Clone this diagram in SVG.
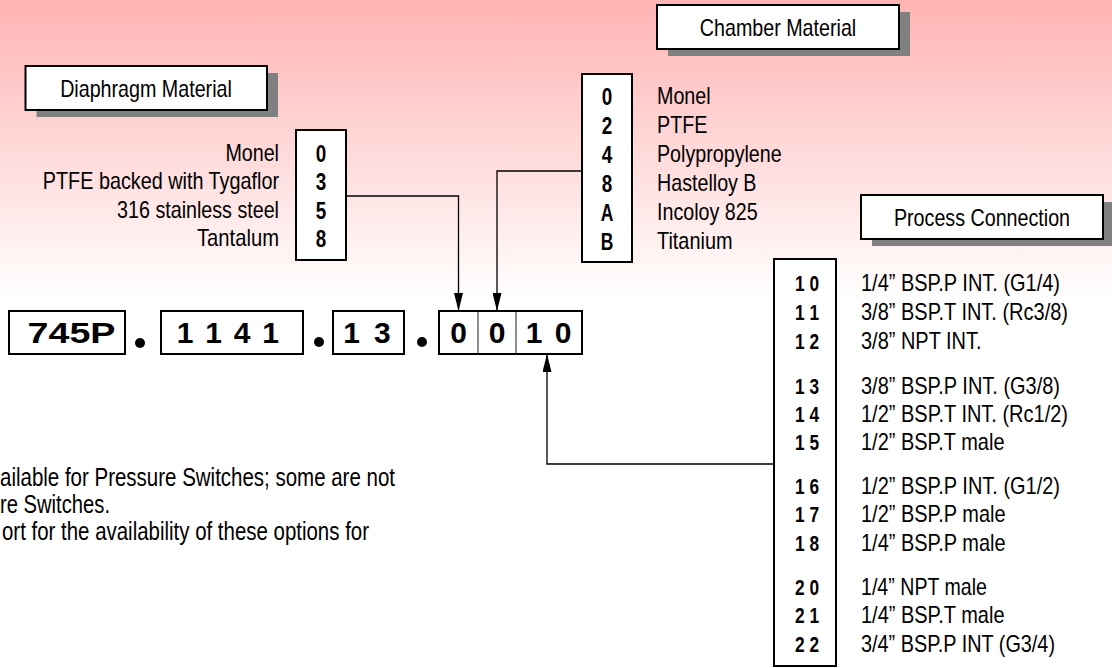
<svg xmlns="http://www.w3.org/2000/svg" width="1112" height="668" viewBox="0 0 1112 668">
<defs>
<linearGradient id="bg" x1="0" y1="0" x2="0" y2="300" gradientUnits="userSpaceOnUse">
<stop offset="0" stop-color="#ffb3b3"/>
<stop offset="1" stop-color="#ffffff"/>
</linearGradient>
<marker id="ah" viewBox="0 0 18 9" refX="18" refY="4.5" markerWidth="18" markerHeight="9" orient="auto" markerUnits="userSpaceOnUse">
<path d="M0,0 L18,4.5 L0,9 z" fill="#000"/>
</marker>
<style>
.t{font-family:"Liberation Sans Narrow","Arial Narrow","Liberation Sans",Arial,sans-serif;font-size:24px;fill:#000}
.n{font-family:"Liberation Sans Narrow","Arial Narrow","Liberation Sans",Arial,sans-serif;font-size:25px;fill:#000}
.cb{font-family:"Liberation Sans",Arial,sans-serif;font-weight:bold;font-size:23px;fill:#000;text-anchor:middle}
.pc{font-family:"Liberation Sans",Arial,sans-serif;font-weight:bold;font-size:22px;fill:#000;text-anchor:middle}
.mc{font-family:"Liberation Sans",Arial,sans-serif;font-weight:bold;font-size:30px;fill:#000;text-anchor:middle}
.box{fill:#fff;stroke:#000;stroke-width:2}
.sh{fill:#808080}
.ln{fill:none;stroke:#000;stroke-width:1.3}
.div{stroke:#444;stroke-width:1.2}
</style>
</defs>
<rect x="0" y="0" width="1112" height="300" fill="url(#bg)"/>
<rect x="0" y="300" width="1112" height="368" fill="#fff"/>

<g id="label-diaphragm">
<rect class="sh" x="36.5" y="73" width="241.5" height="44"/>
<rect class="box" x="25.5" y="66" width="241.5" height="44"/>
<text class="t" x="146" y="96.5" text-anchor="middle" textLength="171.7" lengthAdjust="spacingAndGlyphs">Diaphragm Material</text>
</g>

<g id="label-chamber">
<rect class="sh" x="668" y="12" width="242" height="44"/>
<rect class="box" x="657" y="5" width="242" height="44"/>
<text class="t" x="778" y="35.5" text-anchor="middle" textLength="156.4" lengthAdjust="spacingAndGlyphs">Chamber Material</text>
</g>

<g id="label-process">
<rect class="sh" x="872" y="202" width="242" height="44"/>
<rect class="box" x="861" y="195" width="242" height="44"/>
<text class="t" x="982" y="225.5" text-anchor="middle" textLength="176.1" lengthAdjust="spacingAndGlyphs">Process Connection</text>
</g>

<g id="diaphragm-options">
<text class="t" x="279" y="160.5" text-anchor="end" textLength="53.6" lengthAdjust="spacingAndGlyphs">Monel</text>
<text class="t" x="279" y="189" text-anchor="end" textLength="236.2" lengthAdjust="spacingAndGlyphs">PTFE backed with Tygaflor</text>
<text class="t" x="279" y="217.5" text-anchor="end" textLength="161.9" lengthAdjust="spacingAndGlyphs">316 stainless steel</text>
<text class="t" x="279" y="246" text-anchor="end" textLength="82" lengthAdjust="spacingAndGlyphs">Tantalum</text>
<rect class="box" x="296" y="130" width="50" height="130"/>
<text class="cb" x="321" y="161.5" textLength="10.5" lengthAdjust="spacingAndGlyphs">0</text>
<text class="cb" x="321" y="190" textLength="10.5" lengthAdjust="spacingAndGlyphs">3</text>
<text class="cb" x="321" y="218.5" textLength="10.5" lengthAdjust="spacingAndGlyphs">5</text>
<text class="cb" x="321" y="247" textLength="10.5" lengthAdjust="spacingAndGlyphs">8</text>
</g>

<g id="chamber-options">
<rect class="box" x="582" y="74" width="50" height="188"/>
<text class="cb" x="607" y="104.5" textLength="10.5" lengthAdjust="spacingAndGlyphs">0</text>
<text class="cb" x="607" y="133.5" textLength="10.5" lengthAdjust="spacingAndGlyphs">2</text>
<text class="cb" x="607" y="162.5" textLength="10.5" lengthAdjust="spacingAndGlyphs">4</text>
<text class="cb" x="607" y="191.5" textLength="10.5" lengthAdjust="spacingAndGlyphs">8</text>
<text class="cb" x="607" y="220.5" textLength="12.6" lengthAdjust="spacingAndGlyphs">A</text>
<text class="cb" x="607" y="249.5" textLength="12.6" lengthAdjust="spacingAndGlyphs">B</text>
<text class="t" x="657" y="104" textLength="53.6" lengthAdjust="spacingAndGlyphs">Monel</text>
<text class="t" x="657" y="133" textLength="50.3" lengthAdjust="spacingAndGlyphs">PTFE</text>
<text class="t" x="657" y="162" textLength="124.7" lengthAdjust="spacingAndGlyphs">Polypropylene</text>
<text class="t" x="657" y="191" textLength="99.5" lengthAdjust="spacingAndGlyphs">Hastelloy B</text>
<text class="t" x="657" y="220" textLength="100.6" lengthAdjust="spacingAndGlyphs">Incoloy 825</text>
<text class="t" x="657" y="249" textLength="75.5" lengthAdjust="spacingAndGlyphs">Titanium</text>
</g>

<g id="process-options">
<rect class="box" x="774" y="259" width="62" height="407"/>
<text class="pc" x="807" y="291" textLength="24" lengthAdjust="spacingAndGlyphs">1 0</text>
<text class="pc" x="807" y="320" textLength="24" lengthAdjust="spacingAndGlyphs">1 1</text>
<text class="pc" x="807" y="348.5" textLength="24" lengthAdjust="spacingAndGlyphs">1 2</text>
<text class="pc" x="807" y="393.5" textLength="24" lengthAdjust="spacingAndGlyphs">1 3</text>
<text class="pc" x="807" y="421.5" textLength="24" lengthAdjust="spacingAndGlyphs">1 4</text>
<text class="pc" x="807" y="449.5" textLength="24" lengthAdjust="spacingAndGlyphs">1 5</text>
<text class="pc" x="807" y="493.5" textLength="24" lengthAdjust="spacingAndGlyphs">1 6</text>
<text class="pc" x="807" y="521.5" textLength="24" lengthAdjust="spacingAndGlyphs">1 7</text>
<text class="pc" x="807" y="550.5" textLength="24" lengthAdjust="spacingAndGlyphs">1 8</text>
<text class="pc" x="807" y="594.5" textLength="24" lengthAdjust="spacingAndGlyphs">2 0</text>
<text class="pc" x="807" y="622.5" textLength="24" lengthAdjust="spacingAndGlyphs">2 1</text>
<text class="pc" x="807" y="651.5" textLength="24" lengthAdjust="spacingAndGlyphs">2 2</text>
<text class="t" x="861" y="291" textLength="199" lengthAdjust="spacingAndGlyphs">1/4” BSP.P INT. (G1/4)</text>
<text class="t" x="861" y="320" textLength="207" lengthAdjust="spacingAndGlyphs">3/8” BSP.T INT. (Rc3/8)</text>
<text class="t" x="861" y="348.5" textLength="120.5" lengthAdjust="spacingAndGlyphs">3/8” NPT INT.</text>
<text class="t" x="861" y="393.5" textLength="199" lengthAdjust="spacingAndGlyphs">3/8” BSP.P INT. (G3/8)</text>
<text class="t" x="861" y="421.5" textLength="207" lengthAdjust="spacingAndGlyphs">1/2” BSP.T INT. (Rc1/2)</text>
<text class="t" x="861" y="449.5" textLength="143.5" lengthAdjust="spacingAndGlyphs">1/2” BSP.T male</text>
<text class="t" x="861" y="493.5" textLength="199" lengthAdjust="spacingAndGlyphs">1/2” BSP.P INT. (G1/2)</text>
<text class="t" x="861" y="521.5" textLength="144.5" lengthAdjust="spacingAndGlyphs">1/2” BSP.P male</text>
<text class="t" x="861" y="550.5" textLength="144.5" lengthAdjust="spacingAndGlyphs">1/4” BSP.P male</text>
<text class="t" x="861" y="594.5" textLength="126" lengthAdjust="spacingAndGlyphs">1/4” NPT male</text>
<text class="t" x="861" y="622.5" textLength="143.5" lengthAdjust="spacingAndGlyphs">1/4” BSP.T male</text>
<text class="t" x="861" y="651.5" textLength="194" lengthAdjust="spacingAndGlyphs">3/4” BSP.P INT (G3/4)</text>
</g>

<g id="model-code">
<rect class="box" x="9" y="311" width="116" height="43"/>
<text class="mc" x="71.5" y="343" textLength="88" lengthAdjust="spacingAndGlyphs">745P</text>
<circle cx="140" cy="343" r="5"/>
<rect class="box" x="161" y="311" width="142" height="43"/>
<text class="mc" x="185 199 213.5 228 242 256 270.5" y="343">1 1 4 1</text>
<circle cx="319" cy="342" r="5"/>
<rect class="box" x="333" y="311" width="71" height="43"/>
<text class="mc" x="351.7 367 382.3" y="343">1 3</text>
<circle cx="422" cy="342" r="5"/>
<rect class="box" x="439" y="311" width="143" height="43"/>
<line class="div" x1="478" y1="312" x2="478" y2="353"/>
<line class="div" x1="516" y1="312" x2="516" y2="353"/>
<text class="mc" x="458.5" y="343">0</text>
<text class="mc" x="497" y="343">0</text>
<text class="mc" x="534 548.5 563" y="343">1 0</text>
</g>

<g id="notes">
<text class="n" x="0" y="486" textLength="395" lengthAdjust="spacingAndGlyphs">ailable for Pressure Switches; some are not</text>
<text class="n" x="0" y="513" textLength="110" lengthAdjust="spacingAndGlyphs">re Switches.</text>
<text class="n" x="2" y="540" textLength="367" lengthAdjust="spacingAndGlyphs">ort for the availability of these options for</text>
</g>

<g id="connectors">
<path class="ln" d="M346,196 H458.5 V311" marker-end="url(#ah)"/>
<path class="ln" d="M582,171 H497 V311" marker-end="url(#ah)"/>
<path class="ln" d="M774,464 H547 V354" marker-end="url(#ah)"/>
</g>
</svg>
